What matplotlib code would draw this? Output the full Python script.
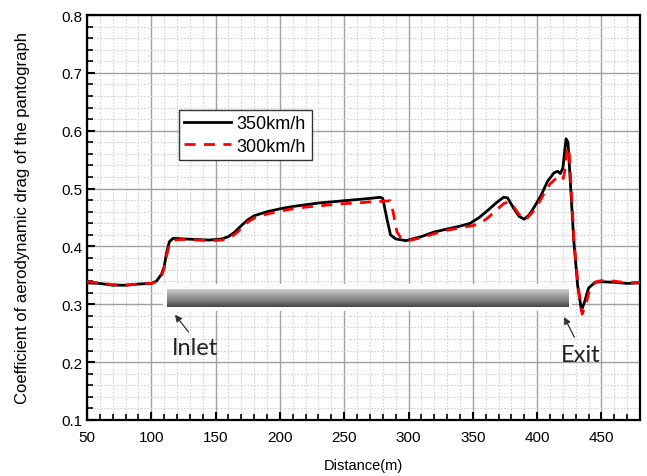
import numpy as np
import matplotlib
matplotlib.use("Agg")
import matplotlib.pyplot as plt
from matplotlib.ticker import MultipleLocator
from matplotlib.patches import Rectangle
from matplotlib.colors import LinearSegmentedColormap

plt.rcParams['font.family'] = ['Liberation Sans', 'DejaVu Sans']

# ---- data ----
x350 = [50, 60, 70, 80, 90, 100, 104, 108, 110, 112, 114, 117, 125, 135, 145, 155, 160, 165, 170,
        175, 180, 190, 200, 210, 220, 230, 240, 250, 260, 270, 278, 280, 283, 286, 290, 298, 310,
        320, 330, 340, 348, 355, 362, 368, 374, 377, 382, 386, 390, 394, 398, 403, 408, 413, 416,
        418, 420, 422.5, 424, 426, 428.5, 431.5, 434.5, 437, 440, 445, 450, 460, 470, 480]
y350 = [0.337, 0.336, 0.333, 0.333, 0.335, 0.336, 0.340, 0.352, 0.365, 0.390, 0.408, 0.414, 0.413,
        0.412, 0.411, 0.413, 0.417, 0.425, 0.436, 0.446, 0.453, 0.460, 0.465, 0.469, 0.472, 0.475,
        0.477, 0.479, 0.481, 0.483, 0.485, 0.483, 0.450, 0.420, 0.413, 0.410, 0.417, 0.425, 0.430,
        0.435, 0.440, 0.450, 0.463, 0.475, 0.485, 0.484, 0.465, 0.452, 0.447, 0.455, 0.469, 0.488,
        0.512, 0.527, 0.530, 0.526, 0.535, 0.586, 0.580, 0.505, 0.410, 0.333, 0.289, 0.305, 0.328,
        0.338, 0.339, 0.338, 0.336, 0.337]

x300 = [50, 60, 70, 80, 90, 100, 104, 108, 110, 112, 114, 118, 125, 135, 145, 155, 160, 165, 170,
        175, 180, 190, 200, 210, 220, 230, 240, 250, 260, 270, 280, 286, 288, 291, 294, 300, 310,
        320, 330, 340, 350, 356, 362, 368, 374, 378, 382, 386, 391, 396, 400, 405, 410, 415, 418,
        420, 421.5, 423.5, 425, 427, 429, 432, 435, 438, 441, 446, 450, 460, 470, 480]
y300 = [0.339, 0.337, 0.334, 0.333, 0.335, 0.336, 0.339, 0.350, 0.362, 0.385, 0.402, 0.411, 0.412,
        0.411, 0.410, 0.411, 0.414, 0.421, 0.431, 0.442, 0.449, 0.456, 0.461, 0.465, 0.468, 0.470,
        0.472, 0.474, 0.475, 0.477, 0.478, 0.479, 0.460, 0.425, 0.415, 0.410, 0.415, 0.422, 0.428,
        0.432, 0.436, 0.440, 0.450, 0.462, 0.474, 0.477, 0.468, 0.455, 0.446, 0.458, 0.470, 0.490,
        0.508, 0.518, 0.519, 0.515, 0.530, 0.572, 0.560, 0.480, 0.400, 0.330, 0.283, 0.300, 0.327,
        0.339, 0.341, 0.340, 0.337, 0.338]

labels = ['350km/h', '300km/h']
tunnel_x = [112, 424]
tunnel_y = [0.296, 0.327]

fig = plt.figure(figsize=(6.47, 4.77), dpi=100)
ax = fig.add_axes([87/647, 1-421/477, (640-87)/647, (421-16)/477])

ax.set_xlim(50, 480)
ax.set_ylim(0.1, 0.8)
ax.xaxis.set_major_locator(MultipleLocator(50))
ax.xaxis.set_minor_locator(MultipleLocator(10))
ax.yaxis.set_major_locator(MultipleLocator(0.1))
ax.yaxis.set_minor_locator(MultipleLocator(0.02))
ax.yaxis.set_major_formatter(matplotlib.ticker.FormatStrFormatter('%.1f'))

ax.grid(which='major', color='#a0a0a0', lw=1.0, ls='-')
ax.grid(which='minor', color='#d2d2d2', lw=0.8, ls=(0, (1.5, 1.5)))
ax.set_axisbelow(True)

ax.tick_params(which='both', direction='in', top=False, right=False, labelsize=11, colors='black')
ax.tick_params(which='major', length=6, width=1.5)
ax.tick_params(which='minor', length=4, width=1.2)
ax.tick_params(axis='x', pad=7)
for s in ax.spines.values():
    s.set_linewidth(1.6)
    s.set_color('black')

# tunnel bar with white margin
ax.add_patch(Rectangle((tunnel_x[0]-3, tunnel_y[0]-0.008), tunnel_x[1]-tunnel_x[0]+6,
                       tunnel_y[1]-tunnel_y[0]+0.016, facecolor='white', edgecolor='none', zorder=1.5))
cmap = LinearSegmentedColormap.from_list('tun', ['#cfcfcf', '#a4a4a4', '#7c7c7c', '#454545'])
grad = np.linspace(0, 1, 64).reshape(-1, 1)
ax.imshow(grad, cmap=cmap, aspect='auto', extent=[tunnel_x[0], tunnel_x[1], tunnel_y[0], tunnel_y[1]],
          origin='upper', zorder=1.6, interpolation='bilinear')
ax.set_xlim(50, 480)
ax.set_ylim(0.1, 0.8)

ax.plot(x350, y350, color='black', lw=2.0, label=labels[0], zorder=3)
ax.plot(x300, y300, color='red', lw=2.0, ls=(0, (4, 3)), label=labels[1], zorder=4)

leg = ax.legend(loc='upper left', bbox_to_anchor=(0.1664, 0.766), fontsize=13, frameon=True,
                fancybox=False, edgecolor='#333333', framealpha=1, handlelength=2.6,
                handletextpad=0.3, labelspacing=0.3, borderpad=0.3, borderaxespad=0)
leg.get_frame().set_linewidth(1.0)

arrow = dict(arrowstyle='-|>', color='#333333', lw=0.9, mutation_scale=10, shrinkA=0, shrinkB=0)
ax.annotate('', xy=(118.4, 0.282), xytext=(129, 0.252), arrowprops=arrow)
ax.text(134, 0.226, 'Inlet', fontsize=17, ha='center', va='center', family=['Lato', 'DejaVu Sans'],
        color='#222222')
ax.annotate('', xy=(421, 0.278), xytext=(429, 0.243), arrowprops=arrow)
ax.text(433.5, 0.213, 'Exit', fontsize=17, ha='center', va='center', family=['Lato', 'DejaVu Sans'],
        color='#222222')

ax.set_xlabel('Distance(m)', fontsize=10.5, labelpad=10)
ax.set_ylabel('Coefficient of aerodynamic drag of the pantograph', fontsize=12, labelpad=22)

fig.savefig('out.png', dpi=100)
